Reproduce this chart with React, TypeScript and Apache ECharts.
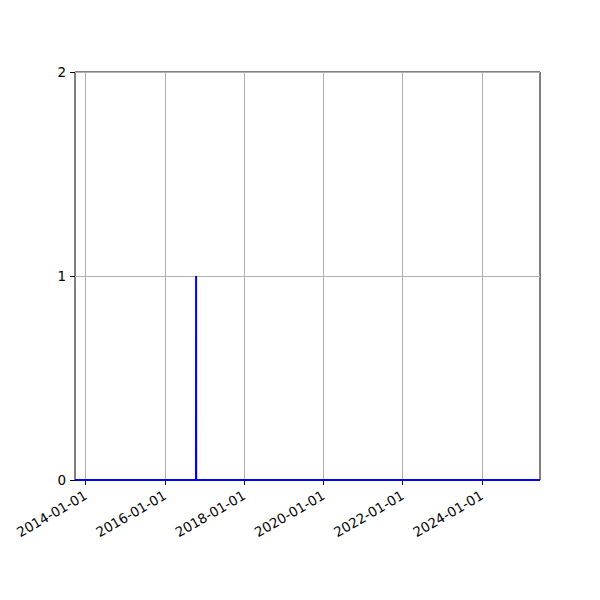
import React, { useEffect, useRef } from 'react';
import * as echarts from 'echarts';

// series: daily counts, zero everywhere except one event
const dates = ['2013-09-25', '2016-10-14', '2016-10-15', '2016-10-16', '2025-06-19'];
const counts = [0, 0, 1, 0, 0];

const xTicks = ['2014-01-01', '2016-01-01', '2018-01-01', '2020-01-01', '2022-01-01', '2024-01-01'];
const yTicks = [0, 1, 2];

const toMs = (d: string) => Date.parse(d + 'T00:00:00Z');

const fmt = (v: number) => {
  const d = new Date(v);
  const p = (n: number) => String(n).padStart(2, '0');
  return `${d.getUTCFullYear()}-${p(d.getUTCMonth() + 1)}-${p(d.getUTCDate())}`;
};

const App: React.FC = () => {
  const chartRef = useRef<HTMLDivElement>(null);

  useEffect(() => {
    if (!chartRef.current) return;
    const chart = echarts.init(chartRef.current, undefined, { renderer: 'svg' });

    const tickMs = xTicks.map(toMs);
    const font = 'DejaVu Sans';

    chart.setOption({
      animation: false,
      textStyle: { fontFamily: font },
      grid: {
        left: 75,
        right: 60,
        top: 72,
        bottom: 120,
        show: true,
        borderColor: '#000',
        borderWidth: 1,
        backgroundColor: 'transparent',
      },
      xAxis: {
        type: 'value',
        min: toMs(dates[0]),
        max: toMs(dates[dates.length - 1]),
        axisLine: { show: false },
        axisTick: { show: true, length: 5, customValues: tickMs, lineStyle: { color: '#000' } },
        axisLabel: {
          customValues: tickMs,
          rotate: 30,
          color: '#000',
          fontSize: 13.5,
          fontFamily: font,
          margin: 14,
          formatter: (v: number) => fmt(v),
        },
        splitLine: { show: false },
      },
      yAxis: {
        type: 'value',
        min: yTicks[0],
        max: yTicks[yTicks.length - 1],
        interval: 1,
        axisLine: { show: false },
        axisTick: { show: true, length: 5, lineStyle: { color: '#000' } },
        axisLabel: { color: '#000', fontSize: 13.5, fontFamily: font, margin: 9 },
        splitLine: { show: true, lineStyle: { color: '#b0b0b0', width: 1 } },
      },
      series: [
        {
          type: 'line',
          data: dates.map((d, i) => [toMs(d), counts[i]]),
          showSymbol: false,
          symbol: 'none',
          lineStyle: { color: '#0000ff', width: 2 },
          itemStyle: { color: '#0000ff' },
          z: 3,
          markLine: {
            silent: true,
            symbol: 'none',
            label: { show: false },
            lineStyle: { color: '#b0b0b0', width: 1, type: 'solid' },
            z: 1,
            data: tickMs.map((t) => ({ xAxis: t })),
          },
        },
      ],
    });

    return () => {
      chart.dispose();
    };
  }, []);

  return (
    <div
      ref={chartRef}
      style={{ position: 'fixed', left: 0, top: 0, width: '600px', height: '600px', background: '#fff' }}
    />
  );
};

export default App;
